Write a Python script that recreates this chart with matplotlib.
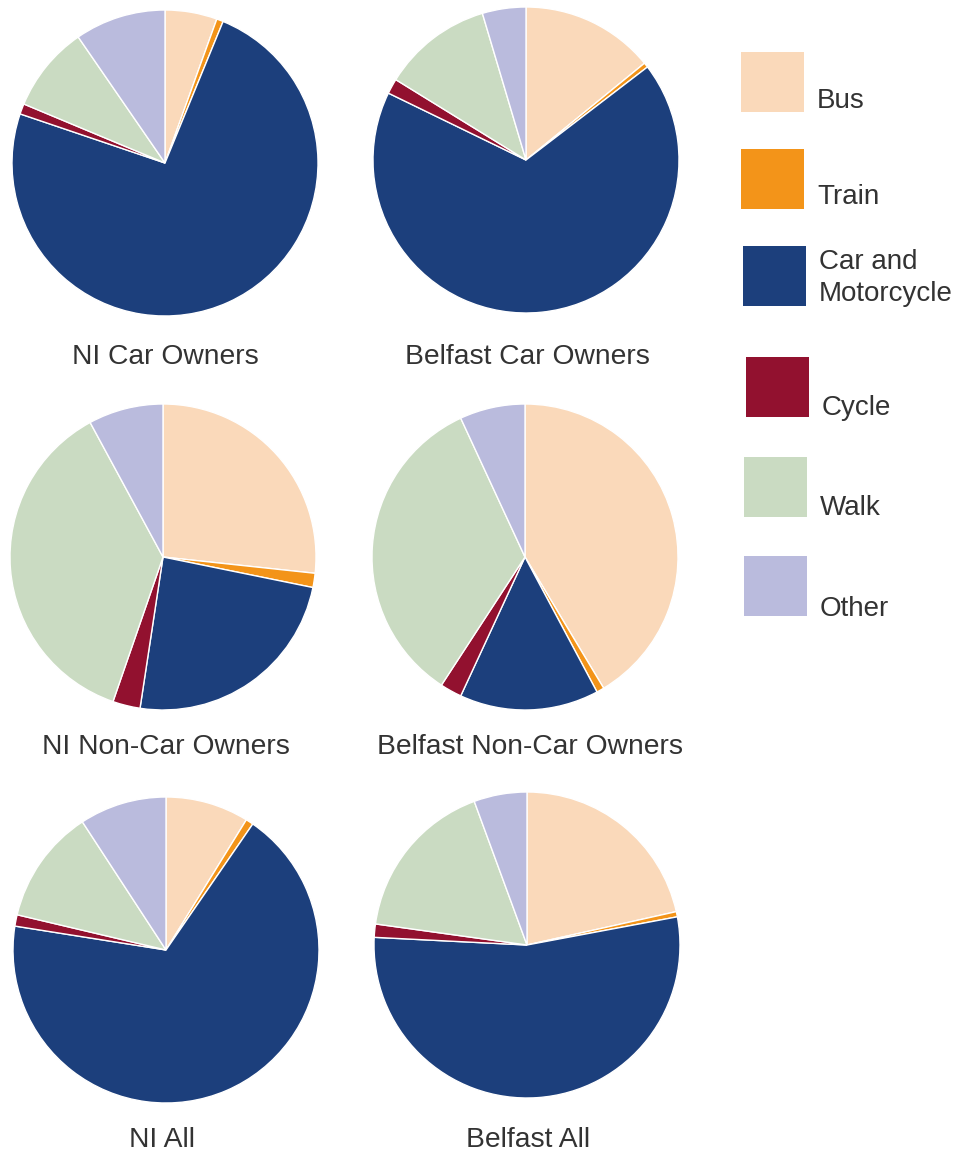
import matplotlib
matplotlib.use("Agg")
import matplotlib.pyplot as plt
from matplotlib.patches import Rectangle

plt.rcParams['font.family'] = ['Liberation Sans', 'DejaVu Sans']

modes = ["Bus", "Train", "Car and\nMotorcycle", "Cycle", "Walk", "Other"]
colours = ["#FAD9BA", "#F39419", "#1C3F7C", "#92112F", "#CADBC2", "#BABBDD"]

titles = ["NI Car Owners", "Belfast Car Owners",
          "NI Non-Car Owners", "Belfast Non-Car Owners",
          "NI All", "Belfast All"]

# mode share (%) in the order of `modes`
ni_car = [5.5, 0.7, 74.0, 1.1, 9.1, 9.6]
belfast_car = [14.1, 0.5, 67.6, 1.6, 11.6, 4.6]
ni_noncar = [26.7, 1.5, 24.2, 2.9, 36.8, 7.9]
belfast_noncar = [41.4, 0.8, 14.7, 2.3, 33.9, 6.9]
ni_all = [8.8, 0.8, 67.9, 1.2, 12.1, 9.2]
belfast_all = [21.5, 0.55, 53.75, 1.4, 17.2, 5.6]

shares = [ni_car, belfast_car, ni_noncar, belfast_noncar, ni_all, belfast_all]

W, H = 974, 1151
fig = plt.figure(figsize=(W / 100, H / 100), dpi=100)

# pie centres and title positions in pixels (from top-left)
centres = [(165, 163), (526, 160), (163, 557), (525, 557), (166, 950), (527, 945)]
title_pos = [(165, 357), (527, 357), (166, 747), (530, 747), (162, 1140), (528, 1140)]
r = 153

for vals, (cx, cy), title, (tx, ty) in zip(shares, centres, titles, title_pos):
    ax = fig.add_axes([(cx - r) / W, 1 - (cy + r) / H, 2 * r / W, 2 * r / H])
    ax.pie(vals, colors=colours, startangle=90, counterclock=False, radius=1,
           wedgeprops=dict(edgecolor="white", linewidth=1.0))
    ax.set_xlim(-1.0, 1.0)
    ax.set_ylim(-1.0, 1.0)
    ax.set_aspect("equal")
    ax.axis("off")
    fig.text(tx / W, 1 - ty / H, title, ha="center", va="center",
             fontsize=20.3, color="#333333")

# legend drawn as squares with labels
leg = fig.add_axes([0, 0, 1, 1])
leg.set_xlim(0, W)
leg.set_ylim(H, 0)
leg.axis("off")
boxes = [(741, 52), (741, 149), (743, 246), (746, 357), (744, 457), (744, 556)]
label_y = [101, 197, 278, 408, 508, 609]
for (bx, by), ly, col, name in zip(boxes, label_y, colours, modes):
    leg.add_patch(Rectangle((bx, by), 63, 60, facecolor=col, edgecolor="none"))
    leg.text(bx + 76, ly, name, ha="left", va="center", fontsize=20,
             color="#333333", linespacing=1.3)

fig.savefig("out.png", dpi=100)
